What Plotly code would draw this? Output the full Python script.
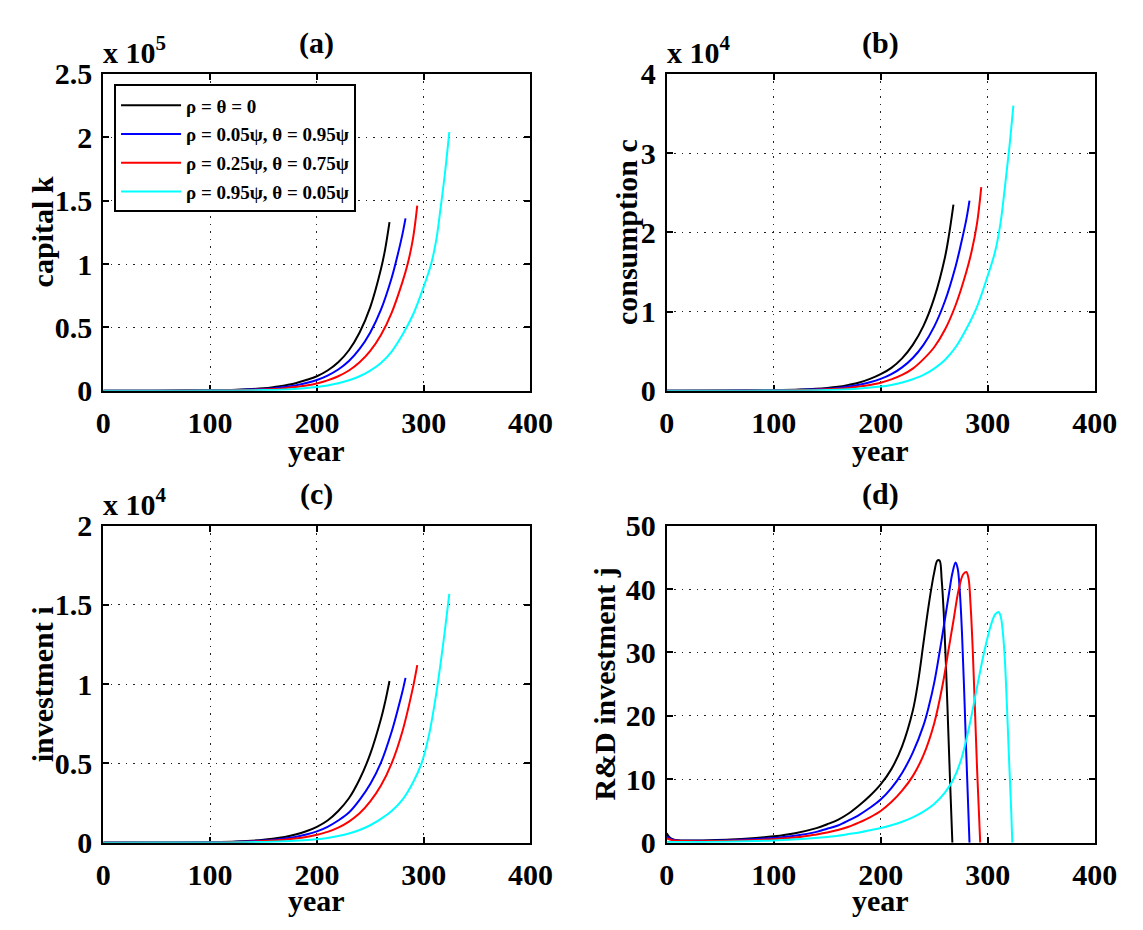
import plotly.graph_objects as go

# ---------------- data ----------------
series_names = ["ρ = θ = 0", "ρ = 0.05ψ, θ = 0.95ψ",
                "ρ = 0.25ψ, θ = 0.75ψ", "ρ = 0.95ψ, θ = 0.05ψ"]
series_colors = ["#000000", "#0000ff", "#ff0000", "#00ffff"]

x_ticks = [0, 100, 200, 300, 400]

# (a) capital k  (units of 1e5)
k_black_t = [0, 50, 100, 125, 150, 160, 170, 180, 190, 200, 210, 220, 230, 240, 250, 260, 264, 268]
k_black_v = [0.0008, 0.0012, 0.004, 0.009, 0.02, 0.03, 0.043, 0.06, 0.085, 0.115, 0.16, 0.225, 0.32, 0.46, 0.66, 0.96, 1.12, 1.33]
k_blue_t = [0, 50, 100, 125, 150, 160, 170, 180, 190, 200, 210, 220, 230, 240, 250, 260, 270, 275, 280, 283]
k_blue_v = [0.0006, 0.001, 0.003, 0.007, 0.015, 0.021, 0.03, 0.043, 0.061, 0.085, 0.12, 0.168, 0.235, 0.33, 0.46, 0.64, 0.89, 1.05, 1.23, 1.36]
k_red_t = [0, 50, 100, 125, 150, 160, 170, 180, 190, 200, 210, 220, 230, 240, 250, 260, 270, 280, 285, 290, 294]
k_red_v = [0.0005, 0.0008, 0.0025, 0.005, 0.011, 0.015, 0.021, 0.03, 0.042, 0.058, 0.082, 0.115, 0.16, 0.225, 0.315, 0.44, 0.615, 0.855, 1.0, 1.2, 1.46]
k_cyan_t = [0, 50, 100, 150, 175, 200, 210, 220, 230, 240, 250, 260, 270, 280, 290, 300, 307, 312, 316, 320, 324]
k_cyan_v = [0.0003, 0.0006, 0.0018, 0.006, 0.013, 0.03, 0.042, 0.059, 0.083, 0.115, 0.16, 0.22, 0.31, 0.44, 0.6, 0.82, 1.0, 1.2, 1.45, 1.72, 2.04]
k_ticks = [0, 0.5, 1, 1.5, 2, 2.5]

# (b) consumption c  (units of 1e4)
c_black_t = [0, 50, 100, 125, 150, 160, 170, 180, 190, 200, 210, 220, 230, 240, 250, 260, 264, 268]
c_black_v = [0.0015, 0.003, 0.008, 0.016, 0.035, 0.05, 0.075, 0.105, 0.15, 0.21, 0.29, 0.41, 0.58, 0.82, 1.17, 1.68, 1.98, 2.35]
c_blue_t = [0, 50, 100, 125, 150, 160, 170, 180, 190, 200, 210, 220, 230, 240, 250, 260, 270, 275, 280, 283]
c_blue_v = [0.0012, 0.0022, 0.006, 0.012, 0.026, 0.037, 0.053, 0.076, 0.107, 0.15, 0.21, 0.296, 0.414, 0.58, 0.81, 1.13, 1.57, 1.85, 2.16, 2.4]
c_red_t = [0, 50, 100, 125, 150, 160, 170, 180, 190, 200, 210, 220, 230, 240, 250, 260, 270, 280, 285, 290, 294]
c_red_v = [0.001, 0.0018, 0.0045, 0.009, 0.019, 0.026, 0.037, 0.053, 0.074, 0.102, 0.144, 0.2, 0.28, 0.4, 0.55, 0.77, 1.08, 1.5, 1.76, 2.11, 2.57]
c_cyan_t = [0, 50, 100, 150, 175, 200, 210, 220, 230, 240, 250, 260, 270, 280, 290, 300, 307, 312, 316, 320, 324]
c_cyan_v = [0.0006, 0.0012, 0.0032, 0.011, 0.023, 0.053, 0.074, 0.104, 0.146, 0.2, 0.28, 0.39, 0.55, 0.78, 1.06, 1.45, 1.76, 2.12, 2.56, 3.04, 3.6]
c_ticks = [0, 1, 2, 3, 4]

# (c) investment i  (units of 1e4)
i_black_t = [0, 50, 100, 125, 150, 160, 170, 180, 190, 200, 210, 220, 230, 240, 250, 260, 264, 268]
i_black_v = [0.0003, 0.0008, 0.003, 0.007, 0.018, 0.026, 0.036, 0.051, 0.072, 0.1, 0.14, 0.2, 0.28, 0.4, 0.56, 0.78, 0.89, 1.02]
i_blue_t = [0, 50, 100, 125, 150, 160, 170, 180, 190, 200, 210, 220, 230, 240, 250, 260, 270, 275, 280, 283]
i_blue_v = [0.0002, 0.0006, 0.0023, 0.0055, 0.013, 0.018, 0.026, 0.036, 0.051, 0.071, 0.1, 0.14, 0.19, 0.27, 0.37, 0.505, 0.7, 0.82, 0.95, 1.04]
i_red_t = [0, 50, 100, 125, 150, 160, 170, 180, 190, 200, 210, 220, 230, 240, 250, 260, 270, 280, 290, 294]
i_red_v = [0.0002, 0.0005, 0.0018, 0.0042, 0.01, 0.014, 0.019, 0.026, 0.036, 0.05, 0.068, 0.095, 0.133, 0.185, 0.26, 0.36, 0.5, 0.7, 0.98, 1.12]
i_cyan_t = [0, 50, 100, 150, 175, 200, 210, 220, 230, 240, 250, 260, 270, 280, 290, 298, 305, 312, 318, 324]
i_cyan_v = [0.0001, 0.0003, 0.001, 0.0045, 0.01, 0.022, 0.03, 0.042, 0.058, 0.08, 0.11, 0.15, 0.2, 0.27, 0.38, 0.5, 0.68, 0.95, 1.24, 1.57]
i_ticks = [0, 0.5, 1, 1.5, 2]

# (d) R&D investment j
j_black_t = [0, 2, 5, 10, 20, 40, 60, 80, 100, 120, 140, 150, 160, 170, 180, 190, 200, 210, 220, 230, 235, 240, 245, 250, 253, 255, 257, 259, 261, 263, 265, 267]
j_black_v = [1.5, 1.0, 0.6, 0.4, 0.35, 0.4, 0.5, 0.7, 1.0, 1.5, 2.3, 2.9, 3.6, 4.6, 5.9, 7.4, 9.2, 11.6, 15.2, 20.8, 25.4, 31.5, 37.6, 42.6, 44.5, 44.5, 41.5, 36, 28, 18.5, 9, 0]
j_blue_t = [0, 2, 5, 10, 20, 40, 60, 80, 100, 120, 140, 150, 160, 170, 180, 190, 200, 210, 220, 230, 240, 245, 250, 255, 260, 264, 267, 270, 272, 274, 276, 278, 280, 283]
j_blue_v = [1.0, 0.8, 0.5, 0.35, 0.3, 0.32, 0.4, 0.55, 0.75, 1.1, 1.7, 2.2, 2.7, 3.5, 4.4, 5.5, 6.8, 8.6, 11, 14.2, 18.5, 21.5, 25.2, 30, 35.2, 39.5, 42.5, 44.2, 43.2, 39.5, 33, 24, 14, 0]
j_red_t = [0, 5, 10, 20, 40, 60, 80, 100, 120, 140, 150, 160, 170, 180, 190, 200, 210, 220, 230, 240, 250, 258, 263, 268, 273, 277, 280, 282, 284, 286, 288, 290, 292, 293]
j_red_v = [0.7, 0.4, 0.3, 0.25, 0.25, 0.3, 0.4, 0.55, 0.8, 1.3, 1.6, 2.0, 2.5, 3.2, 4.0, 5.0, 6.4, 8.2, 10.5, 13.8, 18.8, 25, 30, 35, 40, 42.3, 42.7, 41.8, 37.5, 30.5, 21.5, 12, 4, 0]
j_cyan_t = [0, 50, 100, 150, 160, 170, 180, 190, 200, 210, 220, 230, 240, 250, 260, 268, 275, 283, 290, 297, 303, 307, 310, 312, 314, 316, 318, 320, 322, 323]
j_cyan_v = [0.1, 0.15, 0.35, 0.9, 1.1, 1.35, 1.6, 1.95, 2.3, 2.75, 3.3, 4.0, 4.9, 6.1, 7.9, 10, 13, 18.5, 24.5, 30.3, 34.3, 36, 36.4, 35.8, 33.5, 29, 21.5, 13, 5, 0]
j_ticks = [0, 10, 20, 30, 40, 50]

# ---------------- figure ----------------
W, H = 1143, 930
FONT = "Liberation Serif, Times New Roman, serif"


def px_x(p):
    return p / W


def px_y(p):
    return 1 - p / H


dom_a_x = [px_x(98), px_x(537)]
dom_b_x = [px_x(677), px_x(1117)]
dom_c_x = [px_x(98), px_x(537)]
dom_d_x = [px_x(677), px_x(1117)]
dom_top_y = [px_y(388), px_y(59)]
dom_bot_y = [px_y(857), px_y(528)]

panels = [
    ("x", "y", [(k_black_t, k_black_v), (k_blue_t, k_blue_v), (k_red_t, k_red_v), (k_cyan_t, k_cyan_v)]),
    ("x2", "y2", [(c_black_t, c_black_v), (c_blue_t, c_blue_v), (c_red_t, c_red_v), (c_cyan_t, c_cyan_v)]),
    ("x3", "y3", [(i_black_t, i_black_v), (i_blue_t, i_blue_v), (i_red_t, i_red_v), (i_cyan_t, i_cyan_v)]),
    ("x4", "y4", [(j_black_t, j_black_v), (j_blue_t, j_blue_v), (j_red_t, j_red_v), (j_cyan_t, j_cyan_v)]),
]

fig = go.Figure()
for pi, (xa, ya, series) in enumerate(panels):
    for si, (t, v) in enumerate(series):
        fig.add_trace(go.Scatter(
            x=t, y=v, mode="lines", xaxis=xa, yaxis=ya,
            name=series_names[si], legendgroup=series_names[si],
            showlegend=(pi == 0),
            line=dict(color=series_colors[si], width=2, shape="spline", smoothing=1.0),
        ))

tickfont = dict(family=FONT, size=30, color="black", weight="bold")


def fmt(v):
    return "%g" % v


def axis(domain, anchor, rng, ticks, standoff):
    return dict(domain=domain, anchor=anchor, range=rng, tickmode="array",
                tickvals=ticks, ticktext=[fmt(t) for t in ticks],
                showline=True, linewidth=2, linecolor="black", mirror="ticks",
                ticks="inside", ticklen=6, tickwidth=1.5, tickcolor="black",
                showgrid=True, gridcolor="#222222", gridwidth=1, griddash="1.5px,6px",
                zeroline=False, tickfont=tickfont, layer="below traces",
                ticklabelstandoff=standoff, fixedrange=True)


fig.update_layout(
    width=W, height=H, autosize=False,
    margin=dict(l=0, r=0, t=0, b=0, pad=0),
    paper_bgcolor="white", plot_bgcolor="white",
    xaxis=axis(dom_a_x, "y", [0, 400], x_ticks, 4),
    yaxis=axis(dom_top_y, "x", [0, 2.5], k_ticks, 3),
    xaxis2=axis(dom_b_x, "y2", [0, 400], x_ticks, 4),
    yaxis2=axis(dom_top_y, "x2", [0, 4], c_ticks, 3),
    xaxis3=axis(dom_c_x, "y3", [0, 400], x_ticks, 4),
    yaxis3=axis(dom_bot_y, "x3", [0, 2], i_ticks, 3),
    xaxis4=axis(dom_d_x, "y4", [0, 400], x_ticks, 4),
    yaxis4=axis(dom_bot_y, "x4", [0, 50], j_ticks, 3),
    legend=dict(x=px_x(109), y=px_y(70), xanchor="left", yanchor="top",
                bgcolor="white", bordercolor="black", borderwidth=2,
                font=dict(family=FONT, size=19, color="black", weight="bold"),
                tracegroupgap=1, itemwidth=60),
    showlegend=True,
)

lab = dict(family=FONT, size=30, color="black", weight="bold")
ann = []


def add_text(text, x, y, xanchor="center", yanchor="middle", angle=0):
    ann.append(dict(text=text, x=x, y=y, xref="paper", yref="paper",
                    xanchor=xanchor, yanchor=yanchor, showarrow=False,
                    textangle=angle, font=lab))


# panel titles
add_text("(a)", sum(dom_a_x) / 2, px_y(27))
add_text("(b)", sum(dom_b_x) / 2, px_y(27))
add_text("(c)", sum(dom_c_x) / 2, px_y(495))
add_text("(d)", sum(dom_d_x) / 2, px_y(495))
# x labels
add_text("year", sum(dom_a_x) / 2, px_y(450))
add_text("year", sum(dom_b_x) / 2, px_y(450))
add_text("year", sum(dom_c_x) / 2, px_y(917))
add_text("year", sum(dom_d_x) / 2, px_y(917))
# y labels
add_text("capital k", px_x(35), sum(dom_top_y) / 2, angle=-90)
add_text("consumption c", px_x(636), sum(dom_top_y) / 2, angle=-90)
add_text("investment i", px_x(35), sum(dom_bot_y) / 2, angle=-90)
add_text("R&amp;D investment j", px_x(613), sum(dom_bot_y) / 2, angle=-90)
# exponent labels
add_text("x 10<sup>5</sup>", px_x(96), px_y(56), xanchor="left", yanchor="bottom")
add_text("x 10<sup>4</sup>", px_x(675), px_y(56), xanchor="left", yanchor="bottom")
add_text("x 10<sup>4</sup>", px_x(96), px_y(525), xanchor="left", yanchor="bottom")

fig.update_layout(annotations=ann)
fig.write_html(
    "out.html",
    config={"displayModeBar": False},
    post_script="document.body.style.margin='0px';document.body.style.overflow='hidden';",
)
